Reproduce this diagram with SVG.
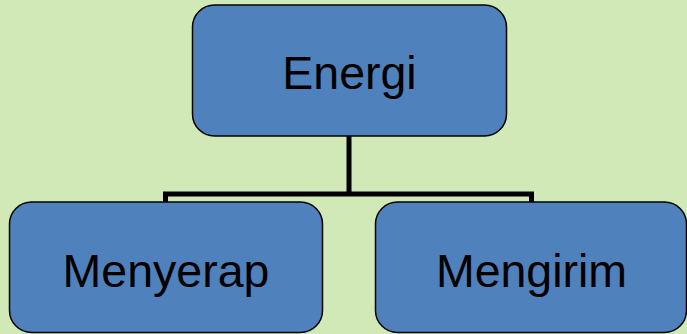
<svg xmlns="http://www.w3.org/2000/svg" width="687" height="334" viewBox="0 0 687 334">
  <style>
    .box { fill: #4F81BD; stroke: #000; stroke-width: 1.5; }
    .label { font-family: "Liberation Sans", Arial, sans-serif; font-size: 46.5px; fill: #000; text-anchor: middle; }
    .link { fill: none; stroke: #000; stroke-width: 5; stroke-linejoin: miter; }
  </style>
  <rect width="687" height="334" fill="#D1E9B6"/>
  <g id="connectors">
    <path class="link" d="M349 136 V194"/>
    <path class="link" d="M165.5 202 V194 H531.5 V202"/>
  </g>
  <g id="energi">
    <rect class="box" x="192.5" y="5" width="314" height="131" rx="22"/>
    <text class="label" x="349.5" y="89">Energi</text>
  </g>
  <g id="menyerap">
    <rect class="box" x="9.5" y="202" width="313" height="130.5" rx="22"/>
    <text class="label" x="166" y="287">Menyerap</text>
  </g>
  <g id="mengirim">
    <rect class="box" x="375.5" y="202" width="311" height="130.5" rx="22"/>
    <text class="label" x="531.5" y="287">Mengirim</text>
  </g>
</svg>
